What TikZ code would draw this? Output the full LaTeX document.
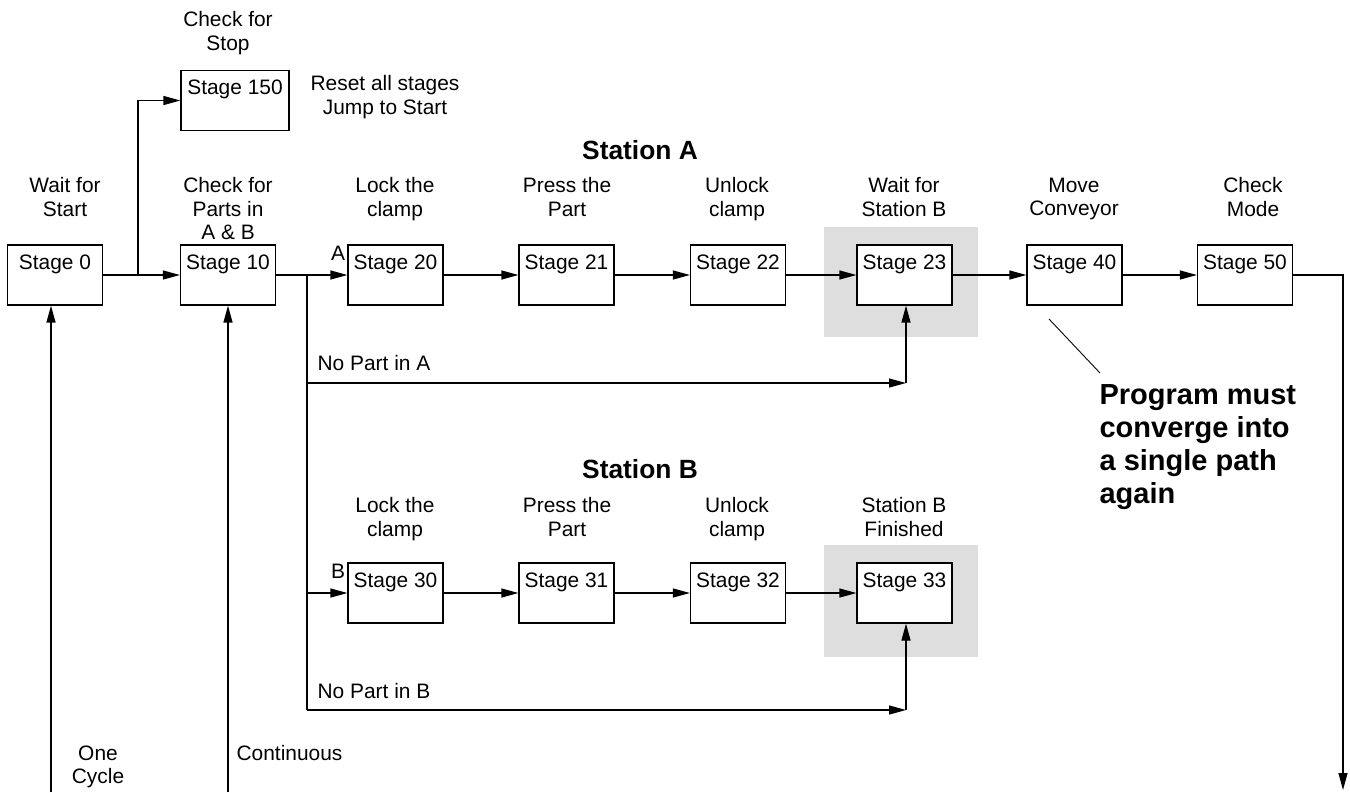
\documentclass[tikz,border=0pt]{standalone}
\usepackage{fontspec}
\setmainfont{Liberation Sans}
\usetikzlibrary{arrows.meta,positioning,calc}

\definecolor{waitgray}{RGB}{222,222,222}

\begin{document}
\begin{tikzpicture}[x=0.02cm, y=-0.02cm, line width=0.7pt,
    stagebox/.style={draw, fill=white, inner sep=0pt, minimum width=1.9cm,
        text height=0.48cm, text depth=0.72cm, font=\fontsize{11.9}{13.4}\selectfont},
    lbl/.style={align=center, inner sep=0pt, anchor=north, font=\fontsize{11.9}{13.4}\selectfont},
    txt/.style={inner sep=0pt, font=\fontsize{11.9}{13.4}\selectfont},
    title/.style={inner sep=0pt, font=\bfseries\fontsize{15}{17}\selectfont},
    arr/.style={-{Triangle[length=0.34cm,width=0.18cm]}}]
    \useasboundingbox (0,0) rectangle (1350,792);

    % Shaded waiting stages
    \fill [waitgray] (824,227) rectangle (978,337);
    \fill [waitgray] (824,545) rectangle (978,657);

    % Main line
    \node [stagebox] (s0) at (55,275) {Stage 0};
    \node [stagebox] (s10) at (228,275) {Stage 10};
    \node [stagebox, minimum width=2.16cm] (s150) at (235,100.5) {Stage 150};
    \node [stagebox] (s40) at (1074.5,275) {Stage 40};
    \node [stagebox] (s50) at (1245,275) {Stage 50};

    % Station A
    \node [stagebox] (s20) at (395.5,275) {Stage 20};
    \node [stagebox] (s21) at (566.5,275) {Stage 21};
    \node [stagebox] (s22) at (738,275) {Stage 22};
    \node [stagebox] (s23) at (904.5,275) {Stage 23};

    % Station B
    \node [stagebox] (s30) at (395.5,593) {Stage 30};
    \node [stagebox] (s31) at (566.5,593) {Stage 31};
    \node [stagebox] (s32) at (738,593) {Stage 32};
    \node [stagebox] (s33) at (904.5,593) {Stage 33};

    % Labels
    \node [lbl] (lstop) at (228,11) {Check for\\Stop};
    \node [lbl] (lreset) at (385,75) {Reset all stages\\Jump to Start};
    \node [lbl] (l0) at (65,177) {Wait for\\Start};
    \node [lbl] (l10) at (228,177) {Check for\\Parts in\\A \& B};
    \node [lbl] (l20) at (395,177) {Lock the\\clamp};
    \node [lbl] (l21) at (567,177) {Press the\\Part};
    \node [lbl] (l22) at (737,177) {Unlock\\clamp};
    \node [lbl] (l23) at (904,177) {Wait for\\Station B};
    \node [lbl] (l40) at (1074,177) {Move\\Conveyor};
    \node [lbl] (l50) at (1253,177) {Check\\Mode};
    \node [lbl] (l30) at (395,497) {Lock the\\clamp};
    \node [lbl] (l31) at (567,497) {Press the\\Part};
    \node [lbl] (l32) at (737,497) {Unlock\\clamp};
    \node [lbl] (l33) at (904,497) {Station B\\Finished};
    \node [title] (tA) at (640,150) {Station A};
    \node [title] (tB) at (640,469) {Station B};
    \node [txt] (la) at (338,253) {A};
    \node [txt] (lb) at (338,571) {B};
    \node [txt, anchor=west] (nA) at (317,363) {No Part in A};
    \node [txt, anchor=west] (nB) at (317,691) {No Part in B};
    \node [lbl] (lone) at (98,745) {One\\Cycle};
    \node [txt, anchor=north west] (lcont) at (236,745) {Continuous};
    \node [align=left, inner sep=0pt, anchor=north west,
        font=\bfseries\fontsize{16.5}{18.8}\selectfont] (note) at (1099,384)
        {Program must\\converge into\\a single path\\again};

    % Junctions
    \coordinate (j0) at (138,275);
    \coordinate (j10) at (307,275);
    \coordinate (jA) at (307,383);
    \coordinate (jB) at (307,710);
    \coordinate (kA) at (906,383);
    \coordinate (kB) at (906,710);
    \coordinate (r1) at (1343,275);
    \coordinate (r2) at (1343,790);
    \coordinate (b0) at (51,792);
    \coordinate (b10) at (228,792);
    \coordinate (p1) at (1049,319);
    \coordinate (p2) at (1100,373);

    % Connectors
    \draw [arr] (s0) -- (s10);
    \draw [arr] (j0) |- (s150.west);
    \draw [arr] (s10) -- (s20);
    \draw [arr] (s20) -- (s21);
    \draw [arr] (s21) -- (s22);
    \draw [arr] (s22) -- (s23);
    \draw [arr] (s23) -- (s40);
    \draw [arr] (s40) -- (s50);
    \draw [arr] (s30) -- (s31);
    \draw [arr] (s31) -- (s32);
    \draw [arr] (s32) -- (s33);
    \draw (j10) -- (jB);
    \draw [arr] (j10 |- s30.west) -- (s30.west);
    \draw [arr] (jA) -- (kA);
    \draw [arr] (kA) -- (kA |- s23.south);
    \draw [arr] (jB) -- (kB);
    \draw [arr] (kB) -- (kB |- s33.south);
    \draw [arr] (s50.east) -- (r1) -- (r2);
    \draw [arr] (b0) -- (b0 |- s0.south);
    \draw [arr] (b10) -- (s10.south);
    \draw [line width=0.5pt] (p1) -- (p2);
\end{tikzpicture}
\end{document}
